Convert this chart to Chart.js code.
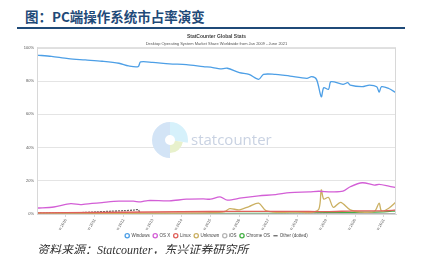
<!DOCTYPE html>
<html lang="zh">
  <head>
    <meta charset="UTF-8" />
    <title>PC端操作系统市占率演变</title>
    <script src="https://cdn.jsdelivr.net/npm/chart.js"></script>
    <style>
      body {
        margin: 0;
        width: 425px;
        height: 254px;
        overflow: hidden;
        background: #fff;
        position: relative;
      }

      .page-title {
        position: absolute;
        left: 25px;
        top: 6px;
        font-family: "Noto Sans CJK SC", sans-serif;
        font-weight: bold;
        font-size: 13.5px;
        color: #1f4a78;
        white-space: nowrap;
      }

      .rule {
        position: absolute;
        left: 17px;
        top: 27px;
        width: 388px;
        height: 2px;
        background: #1f4a78;
      }

      .chart-box {
        position: absolute;
        left: 0;
        top: 31px;
        width: 425px;
        height: 222px;
      }

      .source {
        position: absolute;
        left: 37px;
        top: 240px;
        font-family: "Liberation Serif", "Noto Sans CJK SC", serif;
        font-style: italic;
        font-size: 12px;
        color: #333;
        white-space: nowrap;
      }
    </style>
  </head>

  <body>
    <div class="page-title">图：PC端操作系统市占率演变</div>
    <div class="rule"></div>

    <div class="chart-box">
      <canvas id="osChart"></canvas>
    </div>

    <div class="source">资料来源：Statcounter，东兴证券研究所</div>

    <script>
      // months counted from Jan 2009 (0) to Jun 2021 (149)
      const tickMonths = [12, 24, 36, 48, 60, 72, 84, 96, 108, 120, 132, 144];
      const tickLabels = ["Jan 2010", "Jan 2011", "Jan 2012", "Jan 2013", "Jan 2014", "Jan 2015",
        "Jan 2016", "Jan 2017", "Jan 2018", "Jan 2019", "Jan 2020", "Jan 2021"];

      const winMonths = [0, 6, 13, 20, 27, 34, 38, 42, 43, 48, 55, 62, 69, 73, 76, 79, 84, 88, 92, 94,
        99, 102, 105, 112, 114, 116, 118, 119, 121, 122, 127, 129, 130, 135, 138, 141, 142, 143, 146, 149];
      const winShare = [95.6, 94.8, 93.5, 92.7, 91.9, 90.7, 89.1, 88.7, 91.5, 91.2, 90.3, 89.9, 88.7, 88.1,
        87.3, 87.7, 85.0, 84.0, 81.0, 84.0, 84.0, 83.6, 83.0, 81.6, 82.6, 81.0, 70.5, 76.0, 75.0, 79.6,
        78.0, 79.0, 77.5, 76.6, 77.6, 76.6, 73.3, 76.6, 75.5, 72.9];

      const macMonths = [0, 7, 14, 18, 20, 27, 34, 40, 43, 46, 55, 62, 69, 72, 76, 79, 85, 92, 99, 105,
        113, 117, 122, 127, 130, 135, 140, 142, 146, 149];
      const macShare = [3.6, 4.2, 6.2, 5.6, 6.0, 6.9, 7.7, 7.7, 7.3, 8.1, 7.9, 8.9, 9.1, 8.9, 10.3, 8.3,
        9.7, 10.9, 11.7, 12.9, 13.3, 13.7, 13.3, 13.7, 16.4, 18.8, 17.4, 17.8, 16.8, 15.9];

      const linuxMonths = [0, 24, 48, 72, 96, 108, 120, 132, 144, 149];
      const linuxShare = [0.7, 0.9, 1.2, 1.5, 1.6, 1.6, 1.4, 1.9, 1.9, 2.4];

      const unknownMonths = [0, 12, 24, 48, 72, 78, 80, 84, 88, 92, 95, 100, 108, 114, 117, 118, 119,
        121, 123, 126, 130, 134, 140, 142, 143, 146, 149];
      const unknownShare = [0.5, 0.6, 0.4, 0.5, 0.8, 1.5, 3.2, 2.5, 4.5, 6.5, 2.0, 1.0, 1.2, 1.0, 3.0,
        14.5, 9.0, 10.0, 4.0, 7.0, 2.5, 1.2, 1.5, 6.5, 1.8, 3.5, 7.3];

      const iosMonths = [0, 60, 100, 149];
      const iosShare = [0.0, 0.0, 0.1, 0.2];

      const chromeMonths = [0, 36, 60, 84, 108, 120, 132, 144, 149];
      const chromeShare = [0.0, 0.0, 0.1, 0.3, 0.5, 0.8, 1.0, 1.3, 1.9];

      const otherMonths = [0, 12, 18, 24, 30, 36, 40, 42, 43, 48, 149];
      const otherShare = [0.6, 0.5, 0.8, 1.2, 1.6, 2.0, 2.3, 2.6, 0.3, 0.2, 0.1];

      const yTicks = [0, 20, 40, 60, 80, 100];

      function toPoints(months, values) {
        return months.map((m, i) => ({ x: m, y: values[i] }));
      }

      function series(label, months, values, color, extra) {
        return Object.assign(
          {
            label: label,
            data: toPoints(months, values),
            borderColor: color,
            backgroundColor: "rgba(255,255,255,0.6)",
            borderWidth: 1.3,
            pointRadius: 0,
            pointStyle: "circle",
            tension: 0.3,
          },
          extra || {}
        );
      }

      // faint statcounter logo behind the lines, plus the plot frame
      const watermark = {
        id: "watermark",
        beforeDatasetsDraw(chart) {
          const ctx = chart.ctx;
          const cx = 170;
          const cy = 140 - 31;
          ctx.save();
          ctx.fillStyle = "#d3e4f6";
          ctx.beginPath();
          ctx.arc(cx, cy, 18, Math.PI * 0.5, Math.PI * 1.5);
          ctx.arc(cx, cy, 5, Math.PI * 1.5, Math.PI * 0.5, true);
          ctx.fill();
          ctx.fillStyle = "#d6f1fb";
          ctx.beginPath();
          ctx.arc(cx, cy, 18, Math.PI * 1.5, Math.PI * 0.05);
          ctx.arc(cx, cy, 5, Math.PI * 0.05, Math.PI * 1.5, true);
          ctx.fill();
          ctx.fillStyle = "#e8f1cc";
          ctx.beginPath();
          ctx.arc(cx, cy, 13, Math.PI * 0.05, Math.PI * 0.5);
          ctx.arc(cx, cy, 5, Math.PI * 0.5, Math.PI * 0.05, true);
          ctx.fill();
          ctx.fillStyle = "#c9d2e2";
          ctx.font = "15px 'Open Sans', sans-serif";
          ctx.textBaseline = "middle";
          ctx.fillText("statcounter", 191, cy + 1);
          ctx.restore();
        },
        afterDatasetsDraw(chart) {
          const a = chart.chartArea;
          const ctx = chart.ctx;
          ctx.save();
          ctx.strokeStyle = "#d8d8d8";
          ctx.lineWidth = 1;
          ctx.strokeRect(a.left + 0.5, a.top + 0.5, a.right - a.left - 1, a.bottom - a.top);
          ctx.restore();
        },
      };

      window.onload = function () {
        Chart.defaults.font.family = "'Liberation Sans', Arial, sans-serif";
        Chart.defaults.color = "#555";

        new Chart(document.getElementById("osChart"), {
          type: "line",
          data: {
            datasets: [
              series("Windows", winMonths, winShare, "#4d9fe6"),
              series("OS X", macMonths, macShare, "#d35fd6"),
              series("Linux", linuxMonths, linuxShare, "#e0605a"),
              series("Unknown", unknownMonths, unknownShare, "#cbb062"),
              series("iOS", iosMonths, iosShare, "#b5b5b5"),
              series("Chrome OS", chromeMonths, chromeShare, "#44b044"),
              series("Other (dotted)", otherMonths, otherShare, "#666666", {
                borderDash: [2, 1],
                pointStyle: "line",
              }),
            ],
          },
          options: {
            responsive: true,
            maintainAspectRatio: false,
            animation: false,
            layout: { padding: { left: 0, right: 29, top: 0, bottom: 5 } },
            plugins: {
              title: {
                display: true,
                fullSize: false,
                text: "StatCounter Global Stats",
                color: "#444",
                font: { size: 5, weight: "bold" },
                padding: { top: 3, bottom: 1 },
              },
              subtitle: {
                display: true,
                fullSize: false,
                text: "Desktop Operating System Market Share Worldwide from Jan 2009 - June 2021",
                color: "#555",
                font: { size: 4 },
                padding: { top: 0, bottom: 2 },
              },
              legend: {
                position: "bottom",
                fullSize: false,
                labels: {
                  usePointStyle: true,
                  boxWidth: 4,
                  boxHeight: 3,
                  padding: 3.5,
                  font: { size: 4.5 },
                  color: "#444",
                },
              },
              tooltip: { enabled: false },
            },
            scales: {
              x: {
                type: "linear",
                min: 0,
                max: 149,
                afterBuildTicks(scale) {
                  scale.ticks = tickMonths.map((m) => ({ value: m }));
                },
                afterFit(scale) {
                  scale.height = 16;
                },
                ticks: {
                  autoSkip: false,
                  minRotation: 60,
                  maxRotation: 60,
                  font: { size: 4 },
                  padding: 1,
                  callback: (v) => tickLabels[tickMonths.indexOf(v)],
                },
                grid: { drawOnChartArea: false, tickLength: 3, color: "#d8d8d8" },
                border: { color: "#d8d8d8" },
              },
              y: {
                min: 0,
                max: 100,
                afterBuildTicks(scale) {
                  scale.ticks = yTicks.map((v) => ({ value: v }));
                },
                afterFit(scale) {
                  scale.width = 37;
                },
                ticks: {
                  font: { size: 4 },
                  padding: 3,
                  callback: (v) => v + "%",
                },
                grid: { color: "#e4e4e4", tickLength: 0 },
                border: { color: "#d8d8d8" },
              },
            },
          },
          plugins: [watermark],
        });
      };
    </script>
  </body>
</html>
